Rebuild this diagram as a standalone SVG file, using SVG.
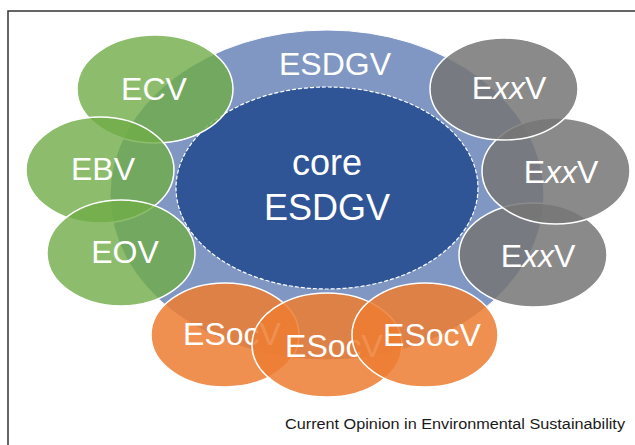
<svg xmlns="http://www.w3.org/2000/svg" width="635" height="445" viewBox="0 0 635 445">
<style>
.lbl{font-family:"Liberation Sans",Arial,sans-serif;fill:#ffffff;text-anchor:middle}
.n{font-size:32px}
.green{fill:#70AD47;fill-opacity:0.8;stroke:#ffffff;stroke-width:1.5}
.gray{fill:#757575;fill-opacity:0.85;stroke:#ffffff;stroke-width:1.5}
.orange{fill:#ED7D31;fill-opacity:0.85;stroke:#ffffff;stroke-width:1.5}
.it{font-style:italic}
</style>
<rect width="635" height="445" fill="#ffffff"/>
<path d="M8,445 V11 H635" fill="none" stroke="#333333" stroke-width="1.5"/>
<g id="connectors"/>
<g id="esdgv">
<ellipse cx="327" cy="195" rx="217" ry="165" fill="#7F97C2" stroke="#ffffff" stroke-width="1"/>
<text class="lbl n" x="335" y="75">ESDGV</text>
</g>
<g id="core">
<ellipse cx="327" cy="188" rx="151" ry="101" fill="#2F5597" stroke="#ffffff" stroke-width="1.2" stroke-dasharray="4 2"/>
<text class="lbl" font-size="36" x="327" y="175">core</text>
<text class="lbl" font-size="36" x="327" y="220">ESDGV</text>
</g>
<g id="ecv">
<ellipse class="green" cx="155" cy="89" rx="78" ry="54"/>
<text class="lbl n" x="154" y="100">ECV</text>
</g>
<g id="ebv">
<ellipse class="green" cx="100" cy="170" rx="74" ry="53"/>
<text class="lbl n" x="103" y="180">EBV</text>
</g>
<g id="eov">
<ellipse class="green" cx="121" cy="253" rx="74" ry="53"/>
<text class="lbl n" x="125" y="263">EOV</text>
</g>
<g id="exxv3">
<ellipse class="gray" cx="533" cy="255" rx="74" ry="52"/>
<text class="lbl n" x="538" y="267">E<tspan class="it">xx</tspan>V</text>
</g>
<g id="exxv2">
<ellipse class="gray" cx="556" cy="171" rx="74" ry="53"/>
<text class="lbl n" x="561" y="183">E<tspan class="it">xx</tspan>V</text>
</g>
<g id="exxv1">
<ellipse class="gray" cx="504" cy="89" rx="74" ry="51"/>
<text class="lbl n" x="509" y="99">E<tspan class="it">xx</tspan>V</text>
</g>
<g id="esocv1">
<ellipse class="orange" cx="225" cy="335" rx="74" ry="52"/>
<text class="lbl n" x="232" y="345">ESocV</text>
</g>
<g id="esocv2">
<ellipse class="orange" cx="327" cy="345" rx="75" ry="52"/>
<text class="lbl n" x="334" y="357">ESocV</text>
</g>
<g id="esocv3">
<ellipse class="orange" cx="425" cy="335" rx="73" ry="52"/>
<text class="lbl n" x="432" y="346">ESocV</text>
</g>
<text x="285" y="429" font-family="'Liberation Sans',Arial,sans-serif" font-size="15.5" fill="#1a1a1a" textLength="340" lengthAdjust="spacingAndGlyphs">Current Opinion in Environmental Sustainability</text>
</svg>
